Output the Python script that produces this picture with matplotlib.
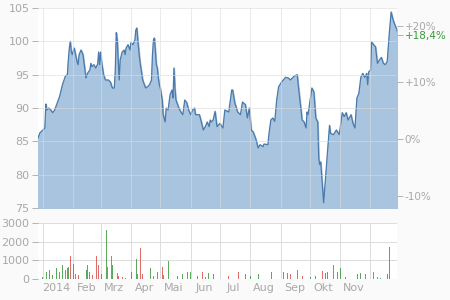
import matplotlib
matplotlib.use("Agg")
import matplotlib.pyplot as plt
import pandas as pd

# Kursverlauf 2014 (Tage ab 01.01.2014)
price_days = [-5, -3, 0, 2, 3, 4, 6, 8, 10, 12, 14, 17, 20, 23, 25, 26, 27, 28, 29, 30,
              32, 33, 35, 36, 37, 39, 41, 43, 44, 46, 48, 49, 50, 52, 54, 56, 57, 58, 59, 60,
              62, 64, 67, 69, 71, 73, 74, 75, 76, 77, 78, 79, 81, 83, 84, 85, 87, 89, 90, 92,
              94, 95, 96, 97, 99, 102, 105, 107, 109, 111, 112, 113, 114, 115, 116, 117, 118, 119, 120, 122,
              123, 125, 126, 128, 130, 132, 133, 134, 135, 136, 137, 139, 141, 143, 145, 147, 149, 151, 153, 155,
              156, 158, 160, 162, 164, 166, 168, 170, 171, 172, 174, 176, 178, 181, 184, 186, 190, 193, 194, 196,
              199, 202, 204, 207, 209, 211, 213, 215, 218, 220, 222, 225, 226, 230, 231, 233, 235, 237, 239, 241,
              244, 248, 251, 253, 257, 260, 261, 263, 265, 267, 269, 270, 271, 275, 277, 279, 281, 282, 283, 284,
              287, 293, 294, 297, 300, 303, 306, 308, 310, 312, 315, 317, 319, 321, 323, 325, 327, 329, 331, 332,
              333, 335, 336, 338, 340, 342, 344, 346, 348, 350, 352, 354, 356, 358, 360, 362, 363]
prices = [85.5, 86.3, 86.7, 87.0, 90.6, 89.7, 90.0, 89.7, 89.3, 89.7, 90.5, 91.7, 93.5, 94.8, 95.0, 97.2, 99.0, 100.0, 98.5, 98.0,
          99.0, 98.3, 96.9, 96.5, 98.0, 98.7, 98.0, 95.7, 94.5, 95.3, 95.7, 96.7, 96.2, 96.5, 96.0, 96.6, 98.4, 96.5, 98.4, 96.9,
          95.0, 94.2, 94.2, 93.9, 93.0, 93.0, 95.7, 101.3, 100.2, 97.2, 94.2, 97.2, 98.4, 98.7, 98.0, 99.0, 99.5, 98.7, 99.8, 99.5,
          100.2, 101.7, 102.0, 100.2, 97.2, 94.2, 93.0, 93.2, 93.5, 94.2, 98.0, 100.2, 100.5, 98.5, 96.5, 96.0, 94.5, 93.5, 93.0, 91.2,
          89.0, 87.9, 90.0, 89.7, 92.0, 92.7, 91.5, 96.0, 93.0, 91.2, 90.8, 90.0, 89.4, 89.0, 91.2, 90.8, 89.7, 89.0, 89.7, 90.0,
          89.0, 89.0, 89.0, 87.9, 86.7, 87.2, 87.9, 87.2, 88.2, 87.9, 88.2, 89.5, 87.2, 87.7, 87.0, 89.7, 89.4, 92.7, 92.7, 90.9,
          89.4, 89.0, 90.9, 90.5, 88.5, 90.0, 86.7, 86.4, 85.2, 84.0, 84.5, 84.2, 84.6, 84.5, 86.0, 88.2, 88.5, 88.0, 91.2, 93.2,
          93.9, 94.6, 94.5, 94.2, 94.8, 95.0, 93.5, 90.9, 88.2, 87.9, 87.0, 89.4, 89.0, 93.0, 92.4, 88.5, 87.9, 82.5, 81.5, 81.9,
          75.8, 87.4, 86.2, 86.0, 86.7, 86.0, 89.3, 88.7, 89.3, 88.2, 89.0, 87.7, 87.0, 91.5, 92.2, 94.6, 95.2, 94.6, 95.2, 93.5,
          95.4, 95.7, 99.9, 99.5, 99.2, 96.7, 97.2, 97.6, 96.7, 96.5, 97.0, 101.0, 104.4, 103.2, 102.4, 101.7, 101.0]

# Umsatz (Stück), g = steigend, r = fallend
vol_days = [-5, 0, 4, 7, 10, 14, 17, 20, 23, 25, 26, 28, 31, 33, 36, 39, 43, 45, 46, 48,
            51, 55, 57, 60, 65, 66, 70, 71, 76, 77, 81, 84, 91, 96, 97, 100, 102, 110, 113, 117,
            122, 123, 128, 130, 135, 138, 143, 148, 151, 158, 163, 166, 169, 174, 179, 190, 200, 207, 212, 220,
            227, 234, 246, 250, 253, 260, 265, 274, 279, 286, 289, 291, 297, 301, 304, 309, 315, 322, 325, 330,
            338, 342, 345, 352, 354, 361]
volumes = [300, 120, 370, 480, 200, 580, 370, 750, 500, 580, 650, 1230, 800, 250, 220, 400, 250, 480, 750, 400,
           200, 1230, 750, 250, 2600, 650, 1230, 750, 300, 150, 100, 80, 370, 1070, 250, 1650, 250, 580, 150, 370,
           620, 200, 970, 100, 370, 150, 250, 370, 370, 150, 370, 120, 300, 250, 150, 150, 370, 250, 150, 250,
           250, 370, 370, 300, 250, 500, 150, 100, 150, 440, 300, 400, 750, 400, 580, 100, 150, 250, 300, 250,
           400, 100, 80, 250, 1730, 250]
vol_dir = ("ggggggggrggrgrrggggg"
           "rrrggrrgrrrgggrrrgrr"
           "rrggrgggggrggggrrggg"
           "ggggrrrggrggrggggggr"
           "rrgggr")

month_labels = ["2014", "Feb", "Mrz", "Apr", "Mai", "Jun", "Jul", "Aug", "Sep", "Okt", "Nov"]
last_pct = "+18,4%"

start = pd.Timestamp("2014-01-01")
p_dates = start + pd.to_timedelta(price_days, unit="D")
v_dates = start + pd.to_timedelta(vol_days, unit="D")
base = prices[-1] / 1.184

grid_c = "#dcdcdc"
text_c = "#a8a8a8"

fig = plt.figure(figsize=(4.5, 3), dpi=100, facecolor="#fafafa")
ax = fig.add_axes([38 / 450, 1 - 208 / 300, 359 / 450, 200 / 300])
axv = fig.add_axes([38 / 450, 1 - 279 / 300, 359 / 450, 56 / 300])

x0 = pd.Timestamp("2013-12-27")
x1 = pd.Timestamp("2014-12-29")
month_starts = pd.date_range("2014-01-01", "2014-12-01", freq="MS")
mids = pd.date_range("2014-01-01", "2014-11-01", freq="MS") + pd.Timedelta(days=14)

for a in (ax, axv):
    a.set_facecolor("white")
    for s in a.spines.values():
        s.set_visible(False)
    a.set_xlim(x0, x1)
    a.set_xticks(month_starts)
    a.tick_params(axis="x", length=0, labelbottom=False)
    a.tick_params(axis="y", colors=text_c, labelsize=8, length=4, width=0.6, pad=2)
    a.grid(True, color=grid_c, lw=0.7)

ax.fill_between(p_dates, prices, 75, color="#a9c4de", zorder=1)
ax.plot(p_dates, prices, color="#4a7aab", lw=0.9, zorder=2)
ax.set_axisbelow(False)
for gl in ax.get_xgridlines() + ax.get_ygridlines():
    gl.set_alpha(0.6)
ax.set_ylim(75, 105)
ax.set_yticks([75, 80, 85, 90, 95, 100, 105])

# Prozentachse rechts
axr = ax.twinx()
for s in axr.spines.values():
    s.set_visible(False)
axr.set_ylim((75 / base - 1) * 100, (105 / base - 1) * 100)
axr.set_yticks([-10, 0, 10, 18.4, 20])
axr.set_yticklabels(["-10%", "0%", "+10%", last_pct, "+20%"])
axr.tick_params(axis="y", colors=text_c, labelsize=7.5, length=4, width=0.6, pad=1.5)
axr.get_yticklabels()[3].set_color("#3a9a3a")

cols = ["#3f9a3f" if c == "g" else "#d9534f" for c in vol_dir]
axv.bar(v_dates, volumes, width=0.9, color=cols, alpha=0.85, zorder=2)
axv.set_ylim(0, 3000)
axv.set_yticks([0, 1000, 2000, 3000])
axv.set_xticks(mids, minor=True)
axv.set_xticklabels(month_labels, minor=True)
axv.tick_params(axis="x", which="minor", length=0, labelbottom=True, colors=text_c, labelsize=8, pad=3)

fig.savefig("out.png", dpi=100, facecolor=fig.get_facecolor())
